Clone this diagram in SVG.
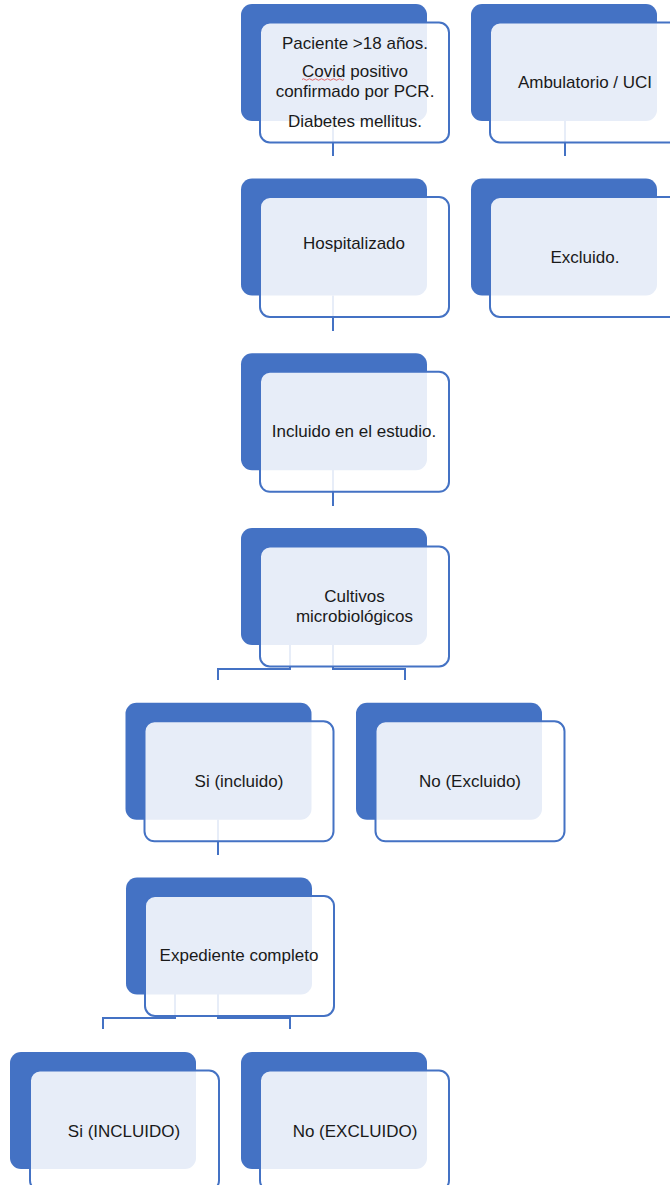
<svg xmlns="http://www.w3.org/2000/svg" width="670" height="1185" viewBox="0 0 670 1185">
<style>
.bk{fill:#4472C4}
.fr{fill:#ffffff;fill-opacity:0.87;stroke:#4472C4;stroke-width:2}
.t{font-family:"Liberation Sans",Arial,sans-serif;font-size:17px;fill:#1a1a1a;text-anchor:middle}
.c{fill:none;stroke:#4472C4;stroke-width:2}
</style>
<rect width="670" height="1185" fill="#ffffff"/>
<g id="connectors">
<path class="c" d="M333,121 V156"/>
<path class="c" d="M565,121 V156"/>
<path class="c" d="M333,295.5 V331"/>
<path class="c" d="M333,470 V506"/>
<path class="c" d="M290,645 V669 H218 V680"/>
<path class="c" d="M333,645 V669 H405 V680"/>
<path class="c" d="M218,819.5 V855"/>
<path class="c" d="M175,994 V1018 H103 V1029"/>
<path class="c" d="M218,994 V1018 H290 V1029"/>
</g>
<g id="n1">
<rect class="bk" x="241" y="4" width="186" height="117" rx="11"/>
<rect class="fr" x="260" y="22.5" width="189" height="120" rx="10"/>
<text class="t" x="355" y="49">Paciente &gt;18 años.</text>
<text class="t" x="355" y="77">Covid positivo</text>
<path d="M302,79.5 q1.5,-1.5 3,0 t3,0 t3,0 t3,0 t3,0 t3,0 t3,0 t3,0 t3,0 t3,0 t3,0 t3,0 t3,0 t3,0" fill="none" stroke="#e04848" stroke-width="0.8"/>
<text class="t" x="355" y="97">confirmado por PCR.</text>
<text class="t" x="355" y="127">Diabetes mellitus.</text>
</g>
<g id="n2">
<rect class="bk" x="471" y="4" width="186" height="117" rx="11"/>
<rect class="fr" x="490" y="22.5" width="189" height="120" rx="10"/>
<text class="t" x="585" y="88">Ambulatorio / UCI</text>
</g>
<g id="n3">
<rect class="bk" x="241" y="178.5" width="186" height="117" rx="11"/>
<rect class="fr" x="260" y="197" width="189" height="120" rx="10"/>
<text class="t" x="354" y="248.5">Hospitalizado</text>
</g>
<g id="n4">
<rect class="bk" x="471" y="178.5" width="186" height="117" rx="11"/>
<rect class="fr" x="490" y="197" width="189" height="120" rx="10"/>
<text class="t" x="585" y="262.5">Excluido.</text>
</g>
<g id="n5">
<rect class="bk" x="241" y="353.3" width="186" height="117" rx="11"/>
<rect class="fr" x="260" y="371.8" width="189" height="120" rx="10"/>
<text class="t" x="354" y="436.7">Incluido en el estudio.</text>
</g>
<g id="n6">
<rect class="bk" x="241" y="528" width="186" height="117" rx="11"/>
<rect class="fr" x="260" y="546.5" width="189" height="120" rx="10"/>
<text class="t" x="354.5" y="601.7">Cultivos</text>
<text class="t" x="354.5" y="621.7">microbiológicos</text>
</g>
<g id="n7">
<rect class="bk" x="125.5" y="702.8" width="186" height="117" rx="11"/>
<rect class="fr" x="144.5" y="721.3" width="189" height="120" rx="10"/>
<text class="t" x="239" y="787">Si (incluido)</text>
</g>
<g id="n8">
<rect class="bk" x="356" y="702.8" width="186" height="117" rx="11"/>
<rect class="fr" x="375.5" y="721.3" width="189" height="120" rx="10"/>
<text class="t" x="470" y="787">No (Excluido)</text>
</g>
<g id="n9">
<rect class="bk" x="126" y="877.5" width="186" height="117" rx="11"/>
<rect class="fr" x="145" y="896" width="189" height="120" rx="10"/>
<text class="t" x="239" y="960.7">Expediente completo</text>
</g>
<g id="n10">
<rect class="bk" x="10" y="1052" width="186" height="117" rx="11"/>
<rect class="fr" x="30" y="1070.5" width="189" height="120" rx="10"/>
<text class="t" x="124" y="1137">Si (INCLUIDO)</text>
</g>
<g id="n11">
<rect class="bk" x="241" y="1052" width="186" height="117" rx="11"/>
<rect class="fr" x="260" y="1070.5" width="189" height="120" rx="10"/>
<text class="t" x="355" y="1137">No (EXCLUIDO)</text>
</g>
</svg>
